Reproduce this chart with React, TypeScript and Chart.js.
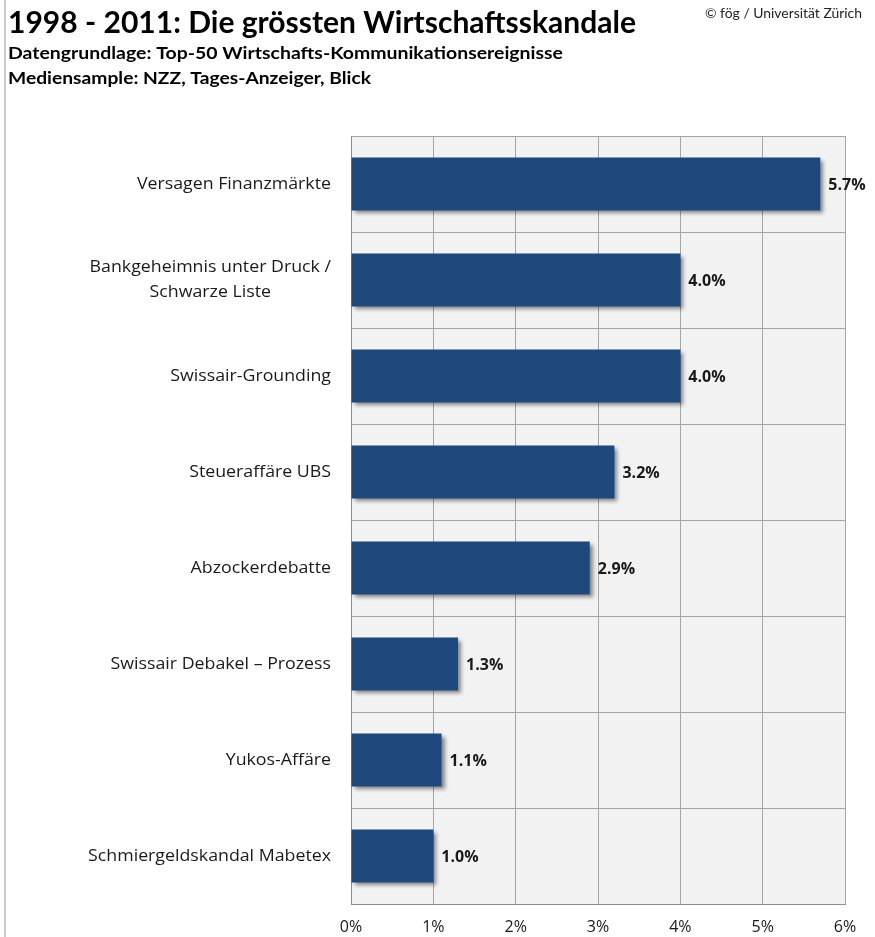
import React, { useEffect, useRef } from "react";
import { Chart, registerables } from "chart.js";

Chart.register(...registerables);

const categories: string[][] = [
  ["Versagen Finanzmärkte"],
  ["Bankgeheimnis unter Druck /", "Schwarze Liste"],
  ["Swissair-Grounding"],
  ["Steueraffäre UBS"],
  ["Abzockerdebatte"],
  ["Swissair Debakel – Prozess"],
  ["Yukos-Affäre"],
  ["Schmiergeldskandal Mabetex"],
];
const shares: number[] = [5.7, 4.0, 4.0, 3.2, 2.9, 1.3, 1.1, 1.0];
const xTicks: number[] = [0, 1, 2, 3, 4, 5, 6];

const title = "1998 - 2011: Die grössten Wirtschaftsskandale";
const subtitle1 = "Datengrundlage: Top-50 Wirtschafts-Kommunikationsereignisse";
const subtitle2 = "Mediensample: NZZ, Tages-Anzeiger, Blick";
const copyright = "© fög / Universität Zürich";

const LABEL_FONT = "'Open Sans', sans-serif";
const LABEL_STRETCH = 1.11;

function fitText(ctx: CanvasRenderingContext2D, text: string, x: number, y: number, width: number) {
  const w = ctx.measureText(text).width;
  ctx.save();
  ctx.translate(x, y);
  ctx.scale(width / w, 1);
  ctx.fillText(text, 0, 0);
  ctx.restore();
}

export default function App() {
  const ref = useRef<HTMLCanvasElement | null>(null);

  useEffect(() => {
    document.body.style.margin = "0";
    const canvas = ref.current!;

    const decor = {
      id: "decor",
      beforeDraw(chart: any) {
        const { ctx, chartArea: a } = chart;
        ctx.save();
        ctx.fillStyle = "#ffffff";
        ctx.fillRect(0, 0, chart.width, chart.height);
        ctx.fillStyle = "#f2f2f2";
        ctx.fillRect(a.left, a.top, a.right - a.left, a.bottom - a.top);
        ctx.strokeStyle = "#cccccc";
        ctx.lineWidth = 2;
        ctx.beginPath();
        ctx.moveTo(5, 0);
        ctx.lineTo(5, chart.height);
        ctx.stroke();
        // header
        ctx.fillStyle = "#000000";
        ctx.textBaseline = "alphabetic";
        ctx.textAlign = "left";
        ctx.font = "bold 30px Lato, sans-serif";
        fitText(ctx, title, 8, 33, 628);
        ctx.font = "bold 17px Lato, sans-serif";
        fitText(ctx, subtitle1, 8, 59, 555);
        fitText(ctx, subtitle2, 8, 84, 363);
        ctx.fillStyle = "#222222";
        ctx.font = "14px Lato, sans-serif";
        fitText(ctx, copyright, 705, 18, 157);
        ctx.restore();
      },
      beforeDatasetsDraw(chart: any) {
        const ctx = chart.ctx;
        ctx.save();
        ctx.shadowColor = "rgba(0,0,0,0.45)";
        ctx.shadowBlur = 4;
        ctx.shadowOffsetX = 3;
        ctx.shadowOffsetY = 3;
      },
      afterDatasetsDraw(chart: any) {
        const ctx = chart.ctx;
        ctx.restore();
        ctx.save();
        const meta = chart.getDatasetMeta(0);
        ctx.fillStyle = "#1a1a1a";
        ctx.font = "bold 16px " + LABEL_FONT;
        ctx.textAlign = "left";
        ctx.textBaseline = "middle";
        meta.data.forEach((bar: any, i: number) => {
          ctx.fillText(shares[i].toFixed(1) + "%", bar.x + 8, bar.y + 1);
        });
        // y category labels
        const y = chart.scales.y;
        ctx.fillStyle = "#1a1a1a";
        ctx.font = "16px " + LABEL_FONT;
        ctx.textBaseline = "middle";
        ctx.textAlign = "center";
        const right = chart.chartArea.left - 20;
        categories.forEach((lines, i) => {
          const cy = y.getPixelForValue(i);
          const widths = lines.map((l) => ctx.measureText(l).width * LABEL_STRETCH);
          const maxW = Math.max(...widths);
          const lh = 25;
          lines.forEach((l, j) => {
            const ly = cy + (j - (lines.length - 1) / 2) * lh;
            ctx.save();
            ctx.translate(right - maxW / 2, ly);
            ctx.scale(LABEL_STRETCH, 1);
            ctx.fillText(l, 0, 0);
            ctx.restore();
          });
        });
        ctx.restore();
      },
    };

    const chart = new Chart(canvas, {
      type: "bar",
      data: {
        labels: categories.map((c) => c.join(" ")),
        datasets: [
          {
            data: shares,
            backgroundColor: "#1f497d",
            borderWidth: 0,
            barPercentage: 0.55,
            categoryPercentage: 1,
          },
        ],
      },
      options: {
        indexAxis: "y",
        responsive: false,
        animation: false,
        layout: { padding: { left: 351, top: 136, right: 30, bottom: 0 } },
        plugins: { legend: { display: false }, tooltip: { enabled: false }, title: { display: false } },
        scales: {
          x: {
            min: 0,
            max: 6,
            afterBuildTicks: (scale: any) => {
              scale.ticks = xTicks.map((v) => ({ value: v }));
            },
            afterFit: (scale: any) => {
              scale.height = 33;
            },
            ticks: {
              callback: (v: any) => v + "%",
              color: "#1a1a1a",
              font: { family: LABEL_FONT, size: 16 },
              padding: 14,
            },
            grid: { color: "#a6a6a6", drawTicks: false, lineWidth: 1 },
            border: { color: "#8c8c8c", width: 1 },
          },
          y: {
            ticks: { display: false },
            grid: { color: "#a6a6a6", drawTicks: false, offset: true, lineWidth: 1 },
            border: { color: "#8c8c8c", width: 1 },
          },
        },
      },
      plugins: [decor],
    });
    return () => chart.destroy();
  }, []);

  return <canvas ref={ref} width={875} height={937} style={{ display: "block" }} />;
}
